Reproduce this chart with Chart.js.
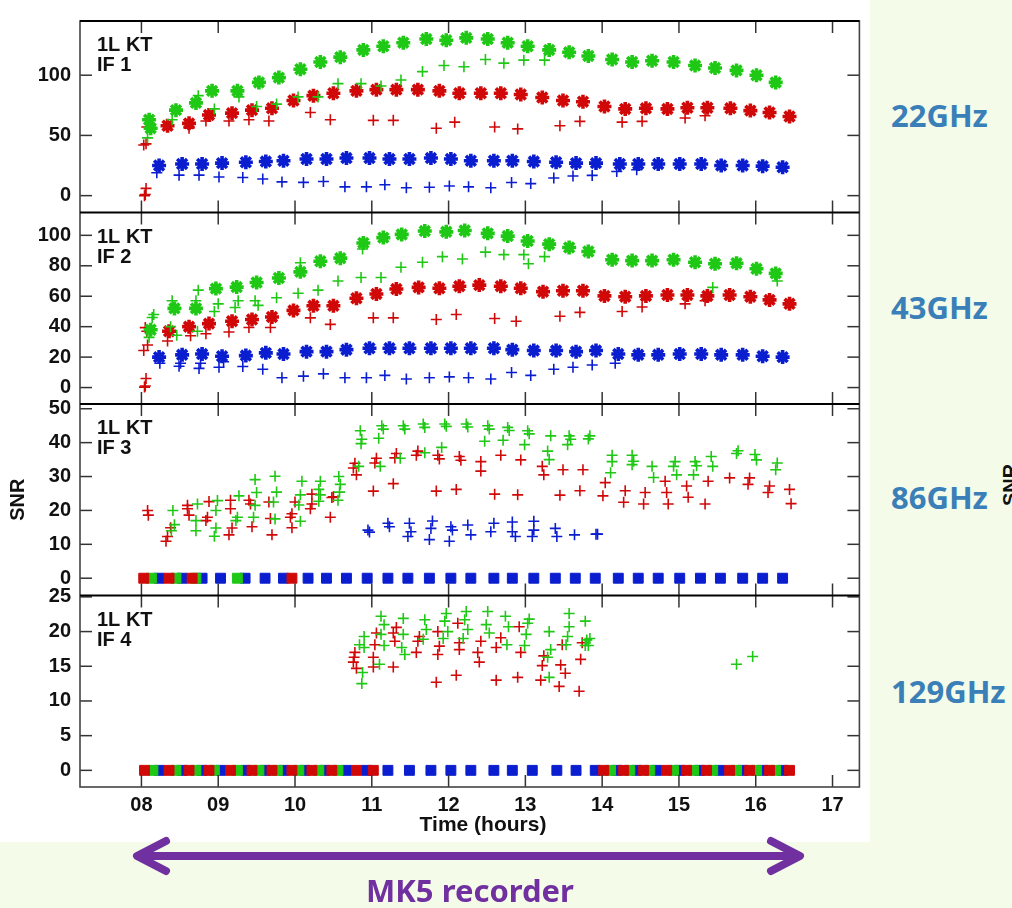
<!DOCTYPE html>
<html><head><meta charset="utf-8">
<script src="https://cdn.jsdelivr.net/npm/chart.js@4.4.0/dist/chart.umd.min.js"></script>
<style>
html,body{margin:0;padding:0;width:1012px;height:908px;overflow:hidden;background:#f4fbe9;}
#white{position:absolute;left:0;top:0;width:870px;height:842px;background:#fff;}
#c{position:absolute;left:0;top:0;}
.freq{position:absolute;left:891px;font:bold 31px "Noto Sans";color:#3a7fb8;line-height:40px;height:40px;white-space:nowrap;}
#mk5{position:absolute;left:270px;width:400px;top:870px;text-align:center;font:bold 31px "Noto Sans";color:#7030a0;line-height:40px;}
#snr2{position:absolute;left:1000px;top:506px;transform-origin:left top;transform:rotate(-90deg);font:bold 20px "Liberation Sans";line-height:20px;color:#111;white-space:nowrap;}
svg{position:absolute;left:0;top:0;}
</style></head><body>
<div id="white"></div>
<canvas id="c" width="870" height="842"></canvas>
<div class="freq" style="top:95px">22GHz</div>
<div class="freq" style="top:287px">43GHz</div>
<div class="freq" style="top:477px">86GHz</div>
<div class="freq" style="top:671px">129GHz</div>
<div id="snr2">SNR</div>
<svg width="1012" height="908"><g stroke="#7030a0" stroke-width="8" stroke-linecap="round" stroke-linejoin="round" fill="none">
<line x1="142" y1="856" x2="795" y2="856"/>
<polyline points="166,841 137,856 166,871"/>
<polyline points="771,841 800,856 771,871"/></g></svg>
<div id="mk5">MK5 recorder</div>
<script>
// ---------- axis / tick data ----------
const xTickValues = [8,9,10,11,12,13,14,15,16,17];
const xTickLabels = ['08','09','10','11','12','13','14','15','16','17'];
const if1Ticks = [0,50,100];
const if2Ticks = [0,20,40,60,80,100];
const if3Ticks = [0,10,20,30,40,50];
const if4Ticks = [0,5,10,15,20,25];
const panelLabels = ['IF 1','IF 2','IF 3','IF 4'];
const xTitle = 'Time (hours)';

// ---------- IF 1 (22 GHz) ----------
const if1GreenDense = [[8.10,63],[8.12,56],[8.45,71],[8.71,77],[8.92,87],[9.25,87],[9.53,94],[9.79,98],[10.07,105],[10.33,111],[10.59,115],[10.89,121],[11.15,124],[11.41,127],[11.71,130],[11.97,129],[12.23,131],[12.51,130],[12.77,127],[13.03,124],[13.31,121],[13.57,119],[13.82,116],[14.13,113],[14.39,111],[14.65,112],[14.93,111],[15.21,108],[15.47,106],[15.75,104],[16.01,100],[16.26,94]];
const if1GreenSingle = [[8.08,48],[8.12,58],[8.40,63],[8.74,83],[8.95,72],[9.27,82],[9.50,74],[9.76,76],[10.04,82],[10.30,82],[10.56,93],[10.86,93],[11.12,91],[11.38,96],[11.66,103],[11.94,108],[12.20,107],[12.48,113],[12.72,110],[12.98,112.5],[13.25,112.5]];
const if1RedDense = [[8.34,58],[8.62,60],[8.88,67],[9.18,68.5],[9.44,71],[9.70,72.5],[9.98,79],[10.24,83],[10.50,85],[10.80,87],[11.06,88],[11.32,88],[11.60,88],[11.88,87],[12.14,85],[12.42,85],[12.68,85],[12.94,84],[13.22,81.5],[13.49,79],[13.75,78],[14.03,74],[14.30,72],[14.57,72.5],[14.85,72],[15.11,73],[15.37,73],[15.67,72.5],[15.93,70.6],[16.18,69],[16.44,65.7]];
const if1RedSingle = [[8.03,42],[8.06,43],[8.07,57],[8.04,0],[8.05,1],[8.06,6],[8.62,56],[8.84,62],[9.14,62],[9.40,63],[9.66,62],[10.20,69],[10.46,63],[11.02,62.5],[11.28,62.5],[11.84,56],[12.08,61],[12.60,57],[12.90,55.4],[13.45,58],[13.71,61.7],[14.26,61],[14.52,61.7],[15.08,64.4],[15.34,66.3]];
const if1BlueDense = [[8.23,25],[8.53,26.3],[8.79,26.3],[9.05,27],[9.36,27.7],[9.62,28.3],[9.85,29],[10.15,30.4],[10.41,30.4],[10.67,31.2],[10.97,31.2],[11.23,30.4],[11.49,30.4],[11.77,31.2],[12.03,30.4],[12.29,29],[12.59,29],[12.83,29],[13.11,28.3],[13.40,27.7],[13.66,27],[13.92,27],[14.23,26.3],[14.47,26.3],[14.73,26.3],[15.01,26.3],[15.29,26.3],[15.55,25],[15.83,25],[16.09,24.5],[16.35,23.6]];
const if1BlueSingle = [[8.20,19],[8.49,17],[8.75,17],[9.01,15.5],[9.32,15],[9.58,13.8],[9.83,11.4],[10.11,11],[10.37,11.8],[10.65,7.3],[10.93,7.3],[11.17,9],[11.45,6.5],[11.75,7],[12.01,8],[12.26,7.3],[12.55,6.5],[12.82,10.9],[13.07,10],[13.37,14.7],[13.62,16.3],[13.87,16.8],[14.19,20],[14.45,21.5]];

// ---------- IF 2 (43 GHz) ----------
const if2GreenDense = [[8.12,38],[8.43,52],[8.71,52],[8.97,65],[9.24,66],[9.50,69],[9.79,72],[10.07,76],[10.33,83],[10.59,85],[10.89,95],[11.15,98.5],[11.39,100.6],[11.69,102.8],[11.97,102.3],[12.21,103.2],[12.51,101.3],[12.77,99.5],[13.03,96.3],[13.31,94.2],[13.57,92],[13.82,89.4],[14.13,84],[14.39,83.4],[14.65,83.4],[14.93,84],[15.21,82.3],[15.47,81.3],[15.75,81.7],[16.01,78],[16.26,75]];
const if2GreenSingle = [[8.10,33],[8.14,46],[8.16,48],[8.40,57],[8.46,34.4],[8.38,40],[8.74,64],[8.71,57],[8.73,37],[8.95,50],[9.00,55],[9.22,52.6],[9.26,57],[9.48,57],[9.52,54],[9.76,59],[10.07,82],[10.04,62],[10.30,64],[10.56,70],[10.88,91],[10.86,72.3],[11.12,72.3],[11.38,79],[11.66,82.3],[11.92,86],[12.18,84.5],[12.48,89],[12.72,87.3],[12.98,87.3],[13.04,81.3],[13.25,86],[15.44,65.8],[16.28,70]];
const if2RedDense = [[8.36,37],[8.62,40],[8.88,42],[9.18,43.6],[9.44,44.7],[9.70,46.4],[9.98,50.7],[10.24,53.7],[10.50,53.7],[10.80,58.7],[11.06,61.5],[11.32,64.7],[11.61,65.8],[11.88,65.2],[12.14,66.6],[12.40,67.3],[12.68,66.6],[12.94,65.2],[13.23,63],[13.49,63.6],[13.75,63.6],[14.03,60.2],[14.30,59.7],[14.57,60.2],[14.85,60.8],[15.11,60.8],[15.37,60.2],[15.66,60.8],[15.93,59.7],[16.18,57.6],[16.44,55]];
const if2RedSingle = [[8.03,24.3],[8.05,39.4],[8.07,37],[8.08,28],[8.04,0.3],[8.05,1],[8.06,6],[8.34,30.6],[8.64,34],[8.84,35.3],[9.14,36.5],[9.40,39.5],[9.68,39.5],[10.20,45.8],[10.46,41.5],[11.02,45.8],[11.28,45.8],[11.84,44.7],[12.10,48],[12.60,45.4],[12.88,43.6],[13.45,46.8],[13.71,49.4],[14.26,50],[14.52,52.9],[15.08,55],[15.34,57]];
const if2BlueDense = [[8.23,20],[8.53,21.5],[8.79,22],[9.05,20.6],[9.36,21],[9.62,22.8],[9.85,22],[10.15,23.6],[10.41,23.6],[10.67,24.9],[10.97,25.8],[11.23,25.8],[11.49,25.8],[11.77,25.8],[12.03,25.8],[12.29,25.8],[12.59,25.8],[12.83,24.9],[13.11,24.3],[13.40,24.3],[13.66,23.6],[13.92,24.3],[14.21,22],[14.47,21.5],[14.73,21.5],[15.01,22],[15.29,22],[15.55,21.5],[15.83,21.5],[16.09,20.6],[16.35,20]];
const if2BlueSingle = [[8.24,16],[8.51,16],[8.49,14],[8.77,16],[8.75,12.6],[9.01,13.3],[9.07,17],[9.32,13.8],[9.58,12],[9.83,6.4],[10.11,7.5],[10.37,9],[10.65,6.4],[10.93,6.4],[11.17,8],[11.45,5.6],[11.75,6.4],[12.01,7],[12.26,6.4],[12.55,5.6],[12.82,9.9],[13.07,8],[13.37,12],[13.62,13.3],[13.87,14.8],[14.17,16]];

// ---------- IF 3 (86 GHz) ----------
const if3Green = [[8.41,20],[8.43,15.8],[8.39,14],[8.73,21.9],[8.71,17],[8.71,14],[8.99,22.9],[8.97,20],[8.97,14.8],[8.95,12.4],[9.27,24.3],[9.23,17],[9.25,18],[9.48,29.1],[9.50,25.3],[9.48,21.5],[9.46,18],[9.74,30.1],[9.76,25.4],[9.72,22.5],[9.74,17.5],[10.09,28.6],[10.07,24.6],[10.05,21.6],[10.07,16.8],[10.33,28.6],[10.31,26.2],[10.33,24.6],[10.31,22.7],[10.57,30],[10.59,27.7],[10.58,25.4],[10.56,23],[10.85,43.5],[10.86,39.7],[10.87,41],[10.83,33],[11.13,45],[11.15,44],[11.09,41.3],[11.11,33],[11.41,45],[11.43,44],[11.37,35.4],[11.67,45.5],[11.69,44.5],[11.69,37],[11.95,45.5],[11.97,44.8],[11.91,38.6],[12.23,45.5],[12.25,44.6],[12.51,45],[12.53,44],[12.47,40.4],[12.77,44.5],[12.79,43.6],[12.71,40.7],[13.03,43.5],[13.05,42.6],[12.99,39.4],[13.33,42],[13.29,37.5],[13.31,35],[13.57,42],[13.59,41],[13.55,39.4],[13.82,41.1],[13.84,42],[14.13,34.4],[14.11,31.1],[14.13,36.3],[14.39,33.5],[14.39,36.3],[14.41,34.5],[14.65,33],[14.67,29.7],[14.95,34.4],[14.97,30.5],[14.93,33],[15.21,34.4],[15.19,30.5],[15.23,33.2],[15.44,33],[15.42,35.9],[15.75,36.8],[15.77,37.6],[16.01,34.9],[15.99,36.5],[16.26,32],[16.28,34]];
const if3Red = [[8.08,20],[8.09,18.6],[8.34,12.3],[8.32,10.9],[8.38,14.9],[8.60,20.5],[8.60,21.5],[8.62,18.6],[8.86,18],[8.88,22.6],[8.84,17],[9.16,20.5],[9.14,12.8],[9.18,14.8],[9.16,23],[9.42,21.9],[9.44,15.2],[9.40,23],[9.68,17.6],[9.70,12.8],[9.66,22.5],[9.96,19],[9.96,14.9],[10.00,22.5],[9.94,18],[10.22,21.9],[10.22,24.8],[10.20,20.5],[10.48,23.8],[10.46,18],[10.50,24],[10.78,33.9],[10.80,30.5],[10.76,32.5],[11.06,35.4],[11.02,25.7],[11.04,34],[11.32,36.8],[11.28,27.9],[11.30,35.5],[11.58,36.3],[11.60,37.5],[11.84,25.7],[11.86,36.3],[11.88,35.2],[12.14,35.9],[12.10,26.2],[12.16,34.8],[12.42,34.4],[12.42,31.6],[12.60,24.8],[12.68,36.3],[12.94,34.9],[12.90,24.6],[13.22,33],[13.24,30.5],[13.45,24.5],[13.49,32],[13.71,25.8],[13.75,32],[14.04,28.2],[14.01,24.3],[14.30,25.8],[14.28,22.4],[14.56,25.3],[14.54,21.9],[14.84,25.3],[14.82,28.6],[14.86,21.9],[15.10,27.2],[15.12,23.9],[15.38,28.6],[15.34,21.9],[15.66,29.6],[15.92,29.6],[15.90,27.7],[16.18,27.2],[16.16,25.3],[16.44,26.2],[16.46,22]];
const if3Blue = [[10.95,14.2],[10.97,13.6],[11.21,16.2],[11.23,15.2],[11.49,16.2],[11.47,12.3],[11.51,13.7],[11.77,14.7],[11.79,16.9],[11.75,11.4],[12.03,15.2],[12.01,10.9],[12.05,14.2],[12.25,15.7],[12.29,12.8],[12.59,16.2],[12.55,13.7],[12.83,16.6],[12.83,13.7],[12.87,12.3],[13.11,16.8],[13.09,12.3],[13.11,14.2],[13.39,14.7],[13.41,12.3],[13.64,12.8],[13.92,13],[13.94,13]];
const if3ZeroRed = [8.03,8.36,8.66,9.96];
const if3ZeroGreen = [8.13,8.45,8.71,9.25];
const if3ZeroBlue = [8.23,8.53,8.79,9.03,9.35,9.61,9.85,10.17,10.41,10.67,10.94,11.21,11.47,11.75,12.03,12.29,12.59,12.83,13.11,13.39,13.65,13.91,14.21,14.47,14.73,15.01,15.28,15.54,15.83,16.09,16.35];

// ---------- IF 4 (129 GHz) ----------
const if4Green = [[10.87,12.5],[10.88,14.1],[10.84,18.1],[10.90,19.3],[10.90,17.7],[11.10,15.3],[11.12,22.2],[11.16,21],[11.12,19.6],[11.16,18],[11.41,21.9],[11.41,19.6],[11.39,17.7],[11.43,16.7],[11.69,21.7],[11.71,20.3],[11.67,18.9],[11.97,22.6],[11.95,21.5],[11.99,20],[11.93,19],[12.23,22.9],[12.21,21.7],[12.25,20.3],[12.19,19],[12.51,22.9],[12.49,21],[12.53,19.8],[12.74,22.2],[12.78,20.7],[12.76,18.1],[13.03,21.2],[13.01,19.6],[12.99,18],[13.05,21.8],[13.31,20],[13.33,17.4],[13.29,16.3],[13.31,13.4],[13.57,22.6],[13.57,20.7],[13.55,19.3],[13.53,18.1],[13.78,21.5],[13.80,18.8],[13.82,18],[13.78,18],[13.84,19],[15.75,15.3],[15.96,16.4]];
const if4Red = [[10.78,17],[10.76,15.6],[10.80,14.7],[10.77,16.3],[11.02,14.9],[11.04,18.1],[11.06,19.8],[11.02,16.3],[11.28,14.9],[11.30,18.6],[11.32,20.6],[11.28,19.8],[11.58,17],[11.60,18.6],[11.62,19.3],[11.84,12.7],[11.86,16.7],[11.88,17.9],[11.86,20],[12.10,13.7],[12.12,21.2],[12.14,18.4],[12.14,17.4],[12.40,15.6],[12.38,17],[12.42,18.6],[12.62,13],[12.62,17.7],[12.68,19.1],[12.90,13.4],[12.92,20.7],[12.94,17],[13.22,15.1],[13.20,13],[13.24,16.5],[13.48,18.1],[13.46,15.2],[13.52,14],[13.44,12.1],[13.72,16],[13.74,18.4],[13.70,11.4]];
const if4ZeroRed = [8.04,8.36,8.62,8.88,9.16,9.44,9.70,9.96,10.22,10.48,10.80,11.02,14.02,14.28,14.54,14.84,15.10,15.36,15.66,15.92,16.18,16.44];
const if4ZeroGreen = [8.15,8.45,8.71,8.95,9.25,9.53,9.77,10.05,10.31,10.56,14.11,14.36,14.62,14.93,15.19,15.44,15.75,16.01,16.26];
const if4ZeroBlue = [8.23,8.53,8.79,9.03,9.36,9.62,9.85,10.13,10.39,10.67,10.93,11.21,11.49,11.77,12.03,12.29,12.59,12.83,13.09,13.41,13.66,13.91,14.19,14.45,14.71,15.01,15.27,15.53,15.83,16.09,16.35];

// ---------- build ----------
const GREEN='#1ec814', RED='#d00808', BLUE='#0a1ed0';
const STYLES = {
  dense:{pointStyle:'star', r:7, bw:3.6},
  single:{pointStyle:'cross', r:5.5, bw:1.6},
  zero:{pointStyle:'rect', r:7, bw:1}
};
function ds(points, color, yID, kind){
  const st = STYLES[kind];
  return {
    data: points.map(p => Array.isArray(p) ? {x:p[0], y:p[1]} : {x:p, y:0}),
    yAxisID: yID, borderColor: color, backgroundColor: color,
    pointStyle: st.pointStyle, pointRadius: st.r, pointBorderWidth: st.bw,
    pointHoverRadius: st.r, showLine: false
  };
}
const datasets = [
  ds(if1GreenSingle,GREEN,'y1','single'), ds(if1GreenDense,GREEN,'y1','dense'),
  ds(if1RedSingle,RED,'y1','single'), ds(if1RedDense,RED,'y1','dense'),
  ds(if1BlueSingle,BLUE,'y1','single'), ds(if1BlueDense,BLUE,'y1','dense'),
  ds(if2GreenSingle,GREEN,'y2','single'), ds(if2GreenDense,GREEN,'y2','dense'),
  ds(if2RedSingle,RED,'y2','single'), ds(if2RedDense,RED,'y2','dense'),
  ds(if2BlueSingle,BLUE,'y2','single'), ds(if2BlueDense,BLUE,'y2','dense'),
  ds(if3Green,GREEN,'y3','single'), ds(if3Red,RED,'y3','single'), ds(if3Blue,BLUE,'y3','single'),
  ds(if3ZeroRed,RED,'y3','zero'), ds(if3ZeroGreen,GREEN,'y3','zero'), ds(if3ZeroBlue,BLUE,'y3','zero'),
  ds(if4Green,GREEN,'y4','single'), ds(if4Red,RED,'y4','single'),
  ds(if4ZeroRed,RED,'y4','zero'), ds(if4ZeroGreen,GREEN,'y4','zero'), ds(if4ZeroBlue,BLUE,'y4','zero')
];

const FONT = {family:'"Liberation Sans", Arial, sans-serif', size:20, weight:'bold'};
function yAxis(min, max, ticks, title){
  return {
    type:'linear', position:'left', stack:'snr', stackWeight:1, min, max,
    grid:{display:false, drawTicks:false}, border:{display:false},
    ticks:{font:FONT, color:'#111', padding:9, autoSkip:false},
    afterBuildTicks: s => { s.ticks = ticks.map(v => ({value:v})); },
    afterFit: s => { s.width = 80; },
    title: title ? {display:true, text:title, font:FONT, color:'#111', padding:{top:6,bottom:0}} : {display:false}
  };
}

const framePlugin = {
  id:'frame',
  afterDatasetsDraw(chart){
    const {ctx, chartArea:a, scales} = chart;
    const line = (x1,y1,x2,y2) => { ctx.beginPath(); ctx.moveTo(x1,y1); ctx.lineTo(x2,y2); ctx.stroke(); };
    ctx.save();
    ctx.strokeStyle = '#333'; ctx.lineWidth = 1.5;
    const ids = ['y1','y2','y3','y4'];
    ids.forEach((id, i) => {
      const s = scales[id];
      s.ticks.forEach(t => { const y = s.getPixelForValue(t.value); line(a.left,y,a.left+12,y); line(a.right,y,a.right-12,y); });
      scales.x.ticks.forEach(t => { const x = scales.x.getPixelForValue(t.value); line(x,s.top,x,s.top+12); line(x,s.bottom,x,s.bottom-12); });
    });
    ctx.strokeStyle = '#444'; ctx.lineWidth = 1.6;
    ctx.strokeRect(a.left, a.top, a.width, a.height);
    ctx.strokeStyle = '#000'; ctx.lineWidth = 2;
    ids.slice(0,3).forEach(id => { const y = scales[id].bottom; line(a.left, y, a.right, y); });
    line(a.left, a.top, a.right, a.top);
    // panel labels
    ctx.fillStyle = '#111'; ctx.font = 'bold 20px "Liberation Sans", Arial, sans-serif';
    ctx.textAlign = 'left'; ctx.textBaseline = 'alphabetic';
    ids.forEach((id, i) => {
      const s = scales[id];
      ctx.fillText('1L KT', a.left + 17, s.top + 30);
      ctx.fillText(panelLabels[i], a.left + 17, s.top + 50);
    });
    // x-axis title (slightly right of centre, as in the original figure)
    ctx.font = 'bold 21px "Liberation Sans", Arial, sans-serif';
    ctx.textAlign = 'center'; ctx.textBaseline = 'middle';
    ctx.fillText(xTitle, 483, 825);
    ctx.restore();
  }
};

new Chart(document.getElementById('c'), {
  type:'scatter',
  data:{datasets},
  options:{
    responsive:false, animation:false, events:[],
    layout:{padding:{top:6, right:8, left:0, bottom:0}},
    plugins:{legend:{display:false}, tooltip:{enabled:false}},
    scales:{
      x:{type:'linear', position:'bottom', min:7.2, max:17.35,
         grid:{display:false, drawTicks:false}, border:{display:false},
         ticks:{font:FONT, color:'#111', padding:6, autoSkip:false, callback:(v) => xTickLabels[xTickValues.indexOf(v)] ?? ''},
         afterBuildTicks: s => { s.ticks = xTickValues.map(v => ({value:v})); },
         afterFit: s => { s.height = 55; },
         title:{display:false}
      },
      // stacked panels: first defined is placed at the bottom
      y4: yAxis(-2.4, 25.2, if4Ticks),
      y3: yAxis(-5.1, 51.4, if3Ticks, 'SNR'),
      y2: yAxis(-10.8, 115, if2Ticks),
      y1: yAxis(-14, 145, if1Ticks)
    }
  },
  plugins:[framePlugin]
});
</script>
</body></html>
